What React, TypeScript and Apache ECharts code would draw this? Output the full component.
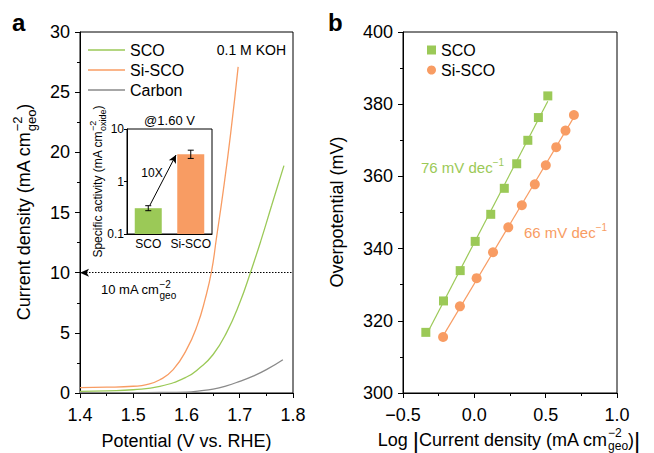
import React, { useEffect, useRef } from 'react';
import * as echarts from 'echarts';

const FONT = '"Liberation Sans", Arial, Helvetica, sans-serif';
const GREEN = '#9bc957';
const ORANGE = '#f89c63';
const GRAY = '#8a8a8a';

// ---- Panel a: LSV curves (potential V vs RHE, current density mA cm-2)
const lsvScoV = [1.40, 1.45, 1.50, 1.55, 1.60, 1.625, 1.65, 1.675, 1.70, 1.72, 1.74, 1.76, 1.783];
const lsvScoJ = [0.13, 0.18, 0.27, 0.55, 1.33, 2.1, 3.2, 5.0, 7.5, 10.0, 12.7, 15.6, 18.9];
const lsvSiscoV = [1.40, 1.45, 1.50, 1.525, 1.55, 1.575, 1.60, 1.62, 1.635, 1.647, 1.656, 1.669, 1.683, 1.697];
const lsvSiscoJ = [0.45, 0.48, 0.56, 0.69, 1.1, 1.94, 3.6, 5.6, 7.8, 10.1, 12.8, 16.8, 21.6, 27.1];
const lsvCarbonV = [1.40, 1.50, 1.55, 1.60, 1.625, 1.65, 1.675, 1.70, 1.725, 1.75, 1.781];
const lsvCarbonJ = [0.03, 0.03, 0.04, 0.08, 0.18, 0.33, 0.6, 0.97, 1.4, 1.94, 2.77];
const refCurrent = 10;

// ---- Inset: specific activity @1.60 V
const insetCats = ['SCO', 'Si-SCO'];
const insetActivity = [0.31, 3.3];
const insetErrLow = [0.278, 2.75];
const insetErrHigh = [0.346, 3.95];
const insetBase = 0.1;

// ---- Panel b: Tafel
const tafelScoLogJ = [-0.340, -0.216, -0.099, 0.006, 0.115, 0.210, 0.297, 0.375, 0.449, 0.515];
const tafelScoEta = [316.8, 325.5, 333.9, 342.0, 349.5, 356.7, 363.5, 370.0, 376.3, 382.3];
const tafelSiscoLogJ = [-0.219, -0.101, 0.016, 0.131, 0.238, 0.333, 0.424, 0.501, 0.574, 0.639, 0.698];
const tafelSiscoEta = [315.5, 324.0, 331.8, 339.0, 345.9, 352.0, 357.8, 363.1, 368.1, 372.7, 377.0];

let mctx: any = null;
function measure(t: string, fs: number, fw = 'normal') {
  if (!mctx) mctx = document.createElement('canvas').getContext('2d');
  mctx.font = `${fw} ${fs}px ${FONT}`;
  return mctx.measureText(t).width;
}

type Piece = { t: string; fs: number; dy?: number; stack?: boolean; fw?: string };

function textRun(pieces: Piece[], x: number, y: number, opt: any = {}) {
  const rotate = !!opt.rotate;
  const anchor = opt.anchor || 'center';
  const color = opt.color || '#000';
  let cur = 0, prevX = 0, prevW = 0;
  const placed: any[] = [];
  for (const p of pieces) {
    const w = measure(p.t, p.fs, p.fw);
    if (p.stack) {
      placed.push({ ...p, px: prevX });
      prevW = Math.max(prevW, w);
      cur = prevX + prevW;
    } else {
      placed.push({ ...p, px: cur });
      prevX = cur; prevW = w; cur += w;
    }
  }
  const W = cur;
  const off = anchor === 'center' ? -W / 2 : anchor === 'right' ? -W : 0;
  return {
    type: 'group', x, y, rotation: rotate ? Math.PI / 2 : 0,
    children: placed.map((p) => ({
      type: 'text', x: p.px + off, y: p.dy || 0,
      style: {
        text: p.t, fontSize: p.fs, fontFamily: FONT, fontWeight: p.fw || 'normal',
        fill: color, align: 'left', verticalAlign: 'middle',
      },
    })),
  };
}

function fit(xs: number[], ys: number[]) {
  const n = xs.length;
  const mx = xs.reduce((a, b) => a + b, 0) / n;
  const my = ys.reduce((a, b) => a + b, 0) / n;
  let sxy = 0, sxx = 0;
  for (let i = 0; i < n; i++) { sxy += (xs[i] - mx) * (ys[i] - my); sxx += (xs[i] - mx) ** 2; }
  const b = sxy / sxx, a = my - b * mx;
  const x0 = Math.min(...xs), x1 = Math.max(...xs);
  return [[x0, a + b * x0], [x1, a + b * x1]];
}

const zip = (a: number[], b: number[]) => a.map((v, i) => [v, b[i]]);

export default function App() {
  const ref = useRef<HTMLDivElement>(null);
  useEffect(() => {
    if (!ref.current) return;
    const chart = echarts.init(ref.current, null, { renderer: 'svg' });

    const axisCommon = {
      axisLine: { show: true, onZero: false, lineStyle: { color: '#000', width: 1 } },
      axisTick: { show: true, inside: false, length: 5, lineStyle: { color: '#000', width: 1 } },
      minorTick: { show: true, splitNumber: 2, length: 3, lineStyle: { color: '#000', width: 1 } },
      splitLine: { show: false },
      axisLabel: { fontSize: 18, color: '#000', fontFamily: FONT },
    };
    const fmt1 = (v: number) => (v < 0 ? '\u2212' + Math.abs(v).toFixed(1) : v.toFixed(1));

    const option: any = {
      animation: false,
      backgroundColor: '#fff',
      textStyle: { fontFamily: FONT },
      grid: [
        { left: 80, top: 32, width: 213, height: 361, show: true, borderColor: '#000', borderWidth: 1 },
        { left: 403, top: 32, width: 214, height: 361, show: true, borderColor: '#000', borderWidth: 1 },
        { left: 127, top: 129, width: 85, height: 105, show: true, borderColor: '#000', borderWidth: 1 },
      ],
      xAxis: [
        { ...axisCommon, gridIndex: 0, type: 'value', min: 1.4, max: 1.8, interval: 0.1,
          axisLabel: { ...axisCommon.axisLabel, margin: 13, formatter: fmt1 } },
        { ...axisCommon, gridIndex: 1, type: 'value', min: -0.5, max: 1.0, interval: 0.5,
          axisLabel: { ...axisCommon.axisLabel, margin: 13, formatter: fmt1 } },
        { gridIndex: 2, type: 'category', data: insetCats,
          axisLine: { show: true, lineStyle: { color: '#000', width: 1 } },
          axisTick: { show: false },
          axisLabel: { fontSize: 12, color: '#000', fontFamily: FONT, margin: 4, interval: 0 } },
      ],
      yAxis: [
        { ...axisCommon, gridIndex: 0, type: 'value', min: 0, max: 30, interval: 5,
          axisLabel: { ...axisCommon.axisLabel, margin: 10 } },
        { ...axisCommon, gridIndex: 1, type: 'value', min: 300, max: 400, interval: 20,
          axisLabel: { ...axisCommon.axisLabel, margin: 10 } },
        { gridIndex: 2, type: 'log', logBase: 10, min: 0.1, max: 10,
          axisLine: { show: true, lineStyle: { color: '#000', width: 1 } },
          axisTick: { show: true, inside: false, length: 3, lineStyle: { color: '#000' } },
          splitLine: { show: false },
          axisLabel: { fontSize: 12, color: '#000', fontFamily: FONT, margin: 3,
            formatter: (v: number) => (v < 1 ? v.toFixed(1) : v.toFixed(0)) } },
      ],
      legend: [
        { left: 88, top: 40, orient: 'vertical', padding: 0, itemGap: 0, itemWidth: 37, itemHeight: 1.5,
          icon: 'rect',
          data: ['SCO', 'Si-SCO', 'Carbon'], selectedMode: false,
          textStyle: { fontSize: 16, color: '#000', fontFamily: FONT, lineHeight: 20 } },
        { left: 427, top: 40, orient: 'vertical', padding: 0, itemGap: 0, itemWidth: 9, itemHeight: 9,
          data: [{ name: 'SCO_b', icon: 'rect' }, { name: 'Si-SCO_b', icon: 'circle' }], selectedMode: false,
          formatter: (n: string) => n.replace('_b', ''),
          textStyle: { fontSize: 16, color: '#000', fontFamily: FONT, lineHeight: 20 } },
      ],
      series: [
        { name: 'SCO', type: 'line', xAxisIndex: 0, yAxisIndex: 0, data: zip(lsvScoV, lsvScoJ),
          smooth: true, symbol: 'none', lineStyle: { color: GREEN, width: 1.3 }, itemStyle: { color: GREEN } },
        { name: 'Si-SCO', type: 'line', xAxisIndex: 0, yAxisIndex: 0, data: zip(lsvSiscoV, lsvSiscoJ),
          smooth: true, symbol: 'none', lineStyle: { color: ORANGE, width: 1.3 }, itemStyle: { color: ORANGE } },
        { name: 'Carbon', type: 'line', xAxisIndex: 0, yAxisIndex: 0, data: zip(lsvCarbonV, lsvCarbonJ),
          smooth: true, symbol: 'none', lineStyle: { color: GRAY, width: 1.3 }, itemStyle: { color: GRAY },
          markLine: { silent: true, symbol: ['arrow', 'none'], symbolSize: [6, 9], label: { show: false },
            lineStyle: { color: '#000', width: 1, type: [1.5, 1.5] },
            data: [[{ coord: [1.4, refCurrent] }, { coord: [1.8, refCurrent] }]] } },
        { name: 'SCO fit', type: 'line', xAxisIndex: 1, yAxisIndex: 1, data: fit(tafelScoLogJ, tafelScoEta),
          symbol: 'none', lineStyle: { color: GREEN, width: 1.2 }, z: 2 },
        { name: 'Si-SCO fit', type: 'line', xAxisIndex: 1, yAxisIndex: 1, data: fit(tafelSiscoLogJ, tafelSiscoEta),
          symbol: 'none', lineStyle: { color: ORANGE, width: 1.2 }, z: 2 },
        { name: 'SCO_b', type: 'scatter', xAxisIndex: 1, yAxisIndex: 1, data: zip(tafelScoLogJ, tafelScoEta),
          symbol: 'rect', symbolSize: 9, itemStyle: { color: GREEN, opacity: 1 }, z: 3 },
        { name: 'Si-SCO_b', type: 'scatter', xAxisIndex: 1, yAxisIndex: 1, data: zip(tafelSiscoLogJ, tafelSiscoEta),
          symbol: 'circle', symbolSize: 10, itemStyle: { color: ORANGE, opacity: 1 }, z: 3 },
        { name: 'inset', type: 'custom', xAxisIndex: 2, yAxisIndex: 2, z: 4,
          data: insetCats.map((c, i) => [c, insetActivity[i], insetErrLow[i], insetErrHigh[i]]),
          encode: { x: 0, y: [1, 2, 3] },
          renderItem: (params: any, api: any) => {
            const i = api.value(0);
            const top = api.coord([i, api.value(1)]);
            const base = api.coord([i, insetBase]);
            const lo = api.coord([i, api.value(2)]);
            const hi = api.coord([i, api.value(3)]);
            const bw = 27, hw = 3;
            const st = { stroke: '#000', lineWidth: 1 };
            return { type: 'group', children: [
              { type: 'rect', shape: { x: top[0] - bw / 2, y: top[1], width: bw, height: base[1] - top[1] },
                style: { fill: params.dataIndex === 0 ? GREEN : ORANGE } },
              { type: 'line', shape: { x1: lo[0], y1: lo[1], x2: hi[0], y2: hi[1] }, style: st },
              { type: 'line', shape: { x1: lo[0] - hw, y1: lo[1], x2: lo[0] + hw, y2: lo[1] }, style: st },
              { type: 'line', shape: { x1: hi[0] - hw, y1: hi[1], x2: hi[0] + hw, y2: hi[1] }, style: st },
            ] };
          },
          markLine: { silent: true, symbol: ['none', 'arrow'], symbolSize: [6, 8], label: { show: false },
            lineStyle: { color: '#000', width: 1, type: 'solid' },
            data: [[{ x: 150, y: 205 }, { x: 176, y: 155 }]] } },
      ],
      graphic: { elements: [
        textRun([{ t: 'a', fs: 24, fw: 'bold' }], 12, 22, { anchor: 'left' }),
        textRun([{ t: 'b', fs: 24, fw: 'bold' }], 328, 22, { anchor: 'left' }),
        textRun([{ t: '0.1 M KOH', fs: 14 }], 286, 50, { anchor: 'right' }),
        textRun([{ t: '@1.60 V', fs: 13 }], 169.5, 120),
        textRun([{ t: '10X', fs: 12 }], 152, 173),
        textRun([{ t: '10 mA cm', fs: 13 }, { t: '\u22122', fs: 10, dy: -5 }, { t: 'geo', fs: 10, dy: 6, stack: true }], 101, 289, { anchor: 'left' }),
        textRun([{ t: '76 mV dec', fs: 15 }, { t: '\u22121', fs: 10, dy: -5 }], 421, 167, { anchor: 'left', color: GREEN }),
        textRun([{ t: '66 mV dec', fs: 15 }, { t: '\u22121', fs: 10, dy: -5 }], 524, 232, { anchor: 'left', color: ORANGE }),
        // axis titles
        textRun([{ t: 'Potential (V vs. RHE)', fs: 18 }], 186.5, 441),
        textRun([{ t: 'Current density (mA cm', fs: 18 }, { t: '\u22122', fs: 13, dy: -7 }, { t: 'geo', fs: 13, dy: 7, stack: true }, { t: ')', fs: 18 }], 24, 212, { rotate: true }),
        textRun([{ t: 'Overpotential (mV)', fs: 18 }], 337, 212, { rotate: true }),
        textRun([{ t: 'Log ', fs: 18 }, { t: '|', fs: 24 }, { t: 'Current density (mA cm', fs: 18 }, { t: '\u22122', fs: 12, dy: -7.5 }, { t: 'geo', fs: 12, dy: 5.5, stack: true }, { t: ')', fs: 18 }, { t: '|', fs: 24 }], 509, 440),
        textRun([{ t: 'Specific activity (mA cm', fs: 12 }, { t: '\u22122', fs: 9, dy: -5 }, { t: 'oxide', fs: 9, dy: 5, stack: true }, { t: ')', fs: 12 }], 98, 181.5, { rotate: true }),
      ] },
    };
    chart.setOption(option);
    return () => chart.dispose();
  }, []);
  return <div ref={ref} style={{ position: 'fixed', left: 0, top: 0, width: 654, height: 453, background: '#fff' }} />;
}
